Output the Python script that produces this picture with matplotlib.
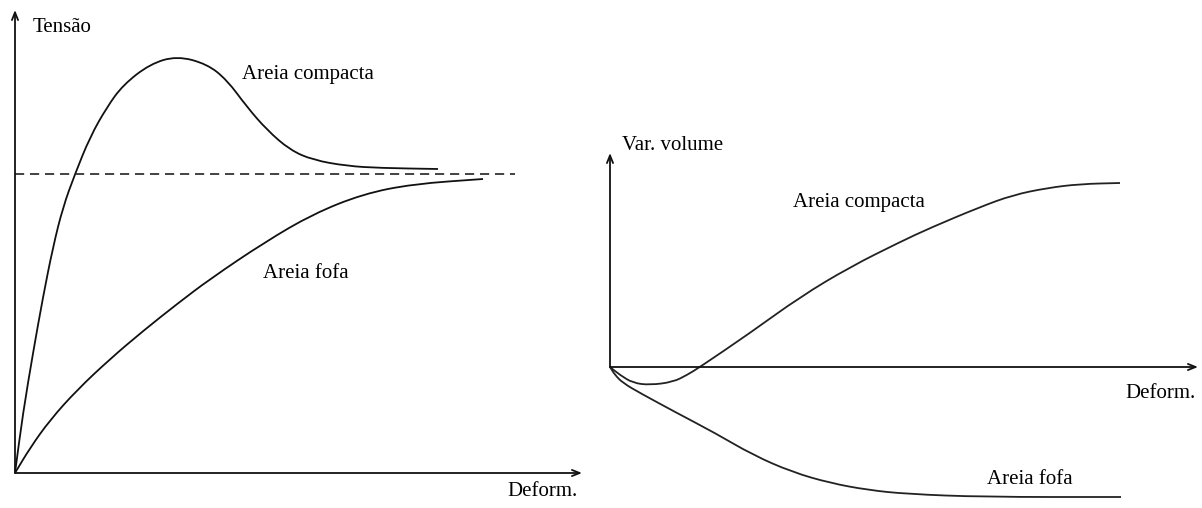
import matplotlib
matplotlib.use("Agg")
import matplotlib.pyplot as plt
from matplotlib.path import Path
from matplotlib.patches import PathPatch

plt.rcParams['font.family'] = ['Liberation Serif', 'DejaVu Serif']

# --- painel esquerdo: tensao x deformacao (unidades arbitrarias) ---
def_compacta = [0, 0.08, 0.18, 0.28, 0.38, 0.48, 0.60, 0.75, 0.92, 1.08, 1.35,
                1.62, 1.92, 2.12, 2.32, 2.52, 2.75, 2.98, 3.32, 3.65, 4.23]
ten_compacta = [0, 0.60, 1.20, 1.76, 2.26, 2.66, 2.99, 3.36, 3.66, 3.88, 4.09,
                4.17, 4.09, 3.93, 3.66, 3.43, 3.23, 3.13, 3.07, 3.05, 3.04]
def_fofa = [0, 0.15, 0.35, 0.62, 0.95, 1.28, 1.62, 1.95, 2.50, 2.98, 3.48, 3.98, 4.68]
ten_fofa = [0, 0.25, 0.53, 0.83, 1.14, 1.42, 1.69, 1.94, 2.31, 2.59, 2.79, 2.89, 2.94]
ten_critica = 2.99
def_critica_max = 5.00

# --- painel direito: variacao de volume x deformacao ---
def_vol_compacta = [0, 0.10, 0.23, 0.40, 0.63, 0.77, 0.90, 1.40, 1.90, 2.40, 2.90,
                    3.20, 3.70, 4.03, 4.37, 4.70, 5.10]
vol_compacta = [0, -0.08, -0.16, -0.18, -0.15, -0.08, 0, 0.34, 0.70, 1.00, 1.25,
                1.39, 1.60, 1.72, 1.79, 1.83, 1.84]
def_vol_fofa = [0, 0.05, 0.13, 0.30, 0.67, 1.05, 1.43, 1.82, 2.20, 2.58, 2.97, 3.73, 5.11]
vol_fofa = [0, -0.08, -0.16, -0.26, -0.46, -0.66, -0.88, -1.05, -1.16, -1.23, -1.27,
            -1.30, -1.30]

W, H = 1202, 508
fig = plt.figure(figsize=(W / 100, H / 100), dpi=100)

fs = 15
lw = 1.3
cor = '#111111'
seta = dict(arrowstyle='->, head_length=0.55, head_width=0.22', lw=1.3, color=cor,
            shrinkA=0, shrinkB=0)


def curva(ax, xs, ys, color):
    # linha suave pelos pontos lidos (bezier quadratica entre os pontos medios)
    pts = list(zip(xs, ys))
    verts = [pts[0]]
    codes = [Path.MOVETO]
    mid = lambda a, b: ((a[0] + b[0]) / 2, (a[1] + b[1]) / 2)
    verts.append(mid(pts[0], pts[1]))
    codes.append(Path.LINETO)
    for i in range(1, len(pts) - 1):
        verts += [pts[i], mid(pts[i], pts[i + 1])]
        codes += [Path.CURVE3, Path.CURVE3]
    verts.append(pts[-1])
    codes.append(Path.LINETO)
    ax.add_patch(PathPatch(Path(verts, codes), fill=False, edgecolor=color, lw=lw,
                           clip_on=False, capstyle='butt'))


# eixo esquerdo: origem em (15, 473) px
ax1 = fig.add_axes([15 / W, (H - 473) / H, 567 / W, 463 / H])
ax1.set_xlim(0, 5.67)
ax1.set_ylim(0, 4.63)
ax1.axis('off')
ax1.annotate('', xy=(5.67, 0), xytext=(0, 0), arrowprops=seta, annotation_clip=False)
ax1.annotate('', xy=(0, 4.63), xytext=(0, 0), arrowprops=seta, annotation_clip=False)
curva(ax1, def_compacta, ten_compacta, cor)
curva(ax1, def_fofa, ten_fofa, cor)
ax1.plot([0, def_critica_max], [ten_critica, ten_critica], color='#222222', lw=1.2,
         dashes=(5.5, 3.5))
ax1.text(0.18, 4.45, 'Tensão', fontsize=fs, va='center', ha='left')
ax1.text(2.27, 3.98, 'Areia compacta', fontsize=fs, va='center', ha='left')
ax1.text(2.48, 2.00, 'Areia fofa', fontsize=fs, va='center', ha='left')
ax1.text(5.63, -0.18, 'Deform.', fontsize=fs, va='center', ha='right', clip_on=False)

# eixo direito: origem em (610, 367) px
ax2 = fig.add_axes([610 / W, (H - 507) / H, 588 / W, 354 / H])
ax2.set_xlim(0, 5.88)
ax2.set_ylim(-1.40, 2.14)
ax2.axis('off')
ax2.annotate('', xy=(5.88, 0), xytext=(0, 0), arrowprops=seta, annotation_clip=False)
ax2.annotate('', xy=(0, 2.14), xytext=(0, 0), arrowprops=seta, annotation_clip=False)
curva(ax2, def_vol_compacta, vol_compacta, '#222222')
curva(ax2, def_vol_fofa, vol_fofa, '#222222')
ax2.text(0.12, 2.22, 'Var. volume', fontsize=fs, va='center', ha='left', clip_on=False)
ax2.text(1.83, 1.64, 'Areia compacta', fontsize=fs, va='center', ha='left')
ax2.text(3.77, -1.13, 'Areia fofa', fontsize=fs, va='center', ha='left')
ax2.text(5.86, -0.26, 'Deform.', fontsize=fs, va='center', ha='right')

fig.savefig('out.png', dpi=100, facecolor='white')
